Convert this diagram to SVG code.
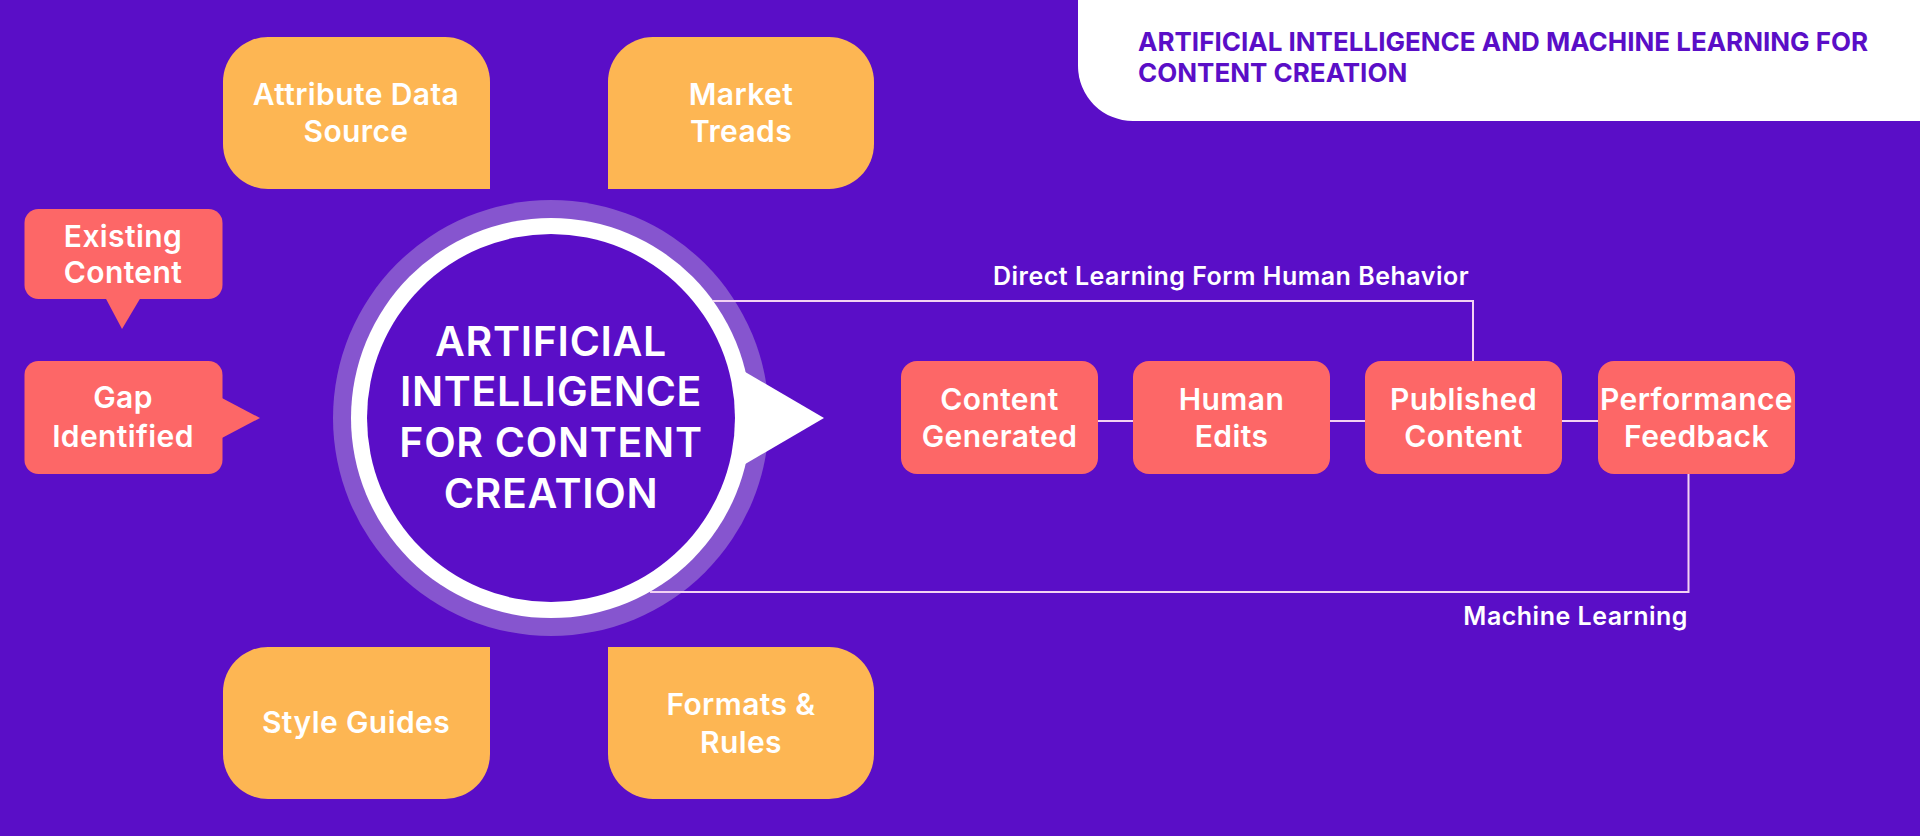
<svg xmlns="http://www.w3.org/2000/svg" width="1920" height="836" viewBox="0 0 1920 836">
<style>
.bg{fill:#5A0EC7}
.org{fill:#FDB653}
.cor{fill:#FD6767}
.t{font-family:Inter,"Noto Sans","Liberation Sans",sans-serif;font-weight:600;fill:#FFFFFF;text-anchor:middle;font-size:30px;letter-spacing:0.4px}
.lab{font-family:Inter,"Noto Sans","Liberation Sans",sans-serif;font-weight:600;fill:#FFFFFF;font-size:25px;letter-spacing:0.5px}
.ct{font-family:Inter,"Noto Sans","Liberation Sans",sans-serif;font-weight:600;fill:#FFFFFF;text-anchor:middle;font-size:41px;letter-spacing:0.7px}
.hd{font-family:Inter,"Noto Sans","Liberation Sans",sans-serif;font-weight:700;fill:#5A0EC7;font-size:26px}
.ln{fill:none;stroke:#F3D2F3;stroke-width:2}
</style>
<rect class="bg" x="0" y="0" width="1920" height="836"/>
<g id="header">
<path d="M1078,0 H1920 V121 H1133 A55,55 0 0 1 1078,66 Z" fill="#FFFFFF"/>
<text class="hd" x="1138" y="51">ARTIFICIAL INTELLIGENCE AND MACHINE LEARNING FOR</text>
<text class="hd" x="1138" y="82">CONTENT CREATION</text>
</g>
<g id="attribute-data-source">
<path class="org" d="M223,82 A45,45 0 0 1 268,37 H445 A45,45 0 0 1 490,82 V189 H268 A45,45 0 0 1 223,144 Z"/>
<text class="t" x="356" y="105">Attribute Data</text>
<text class="t" x="356" y="142">Source</text>
</g>
<g id="market-treads">
<path class="org" d="M608,82 A45,45 0 0 1 653,37 H829 A45,45 0 0 1 874,82 V144 A45,45 0 0 1 829,189 H608 Z"/>
<text class="t" x="741" y="105">Market</text>
<text class="t" x="741" y="142">Treads</text>
</g>
<g id="style-guides">
<path class="org" d="M268,647 H490 V754 A45,45 0 0 1 445,799 H268 A45,45 0 0 1 223,754 V692 A45,45 0 0 1 268,647 Z"/>
<text class="t" x="356" y="733">Style Guides</text>
</g>
<g id="formats-rules">
<path class="org" d="M608,647 H829 A45,45 0 0 1 874,692 V754 A45,45 0 0 1 829,799 H653 A45,45 0 0 1 608,754 Z"/>
<text class="t" x="741" y="715">Formats &amp;</text>
<text class="t" x="741" y="753">Rules</text>
</g>
<g id="existing-content">
<rect class="cor" x="24.5" y="209" width="198" height="90" rx="14"/>
<polygon class="cor" points="105,297 141,297 122,329"/>
<text class="t" x="123" y="247">Existing</text>
<text class="t" x="123" y="283">Content</text>
</g>
<g id="gap-identified">
<rect class="cor" x="24.5" y="361" width="198" height="113" rx="14"/>
<polygon class="cor" points="220,397 260,418 220,439"/>
<text class="t" x="123" y="408">Gap</text>
<text class="t" x="123" y="447">Identified</text>
</g>
<g id="ai-core">
<circle cx="551" cy="418" r="218" fill="#8655CF"/>
<circle cx="551" cy="418" r="200" fill="#FFFFFF"/>
<polygon points="735,366 824,418 735,470" fill="#FFFFFF"/>
<circle cx="551" cy="418" r="184" fill="#5A0EC7"/>
<text class="ct" x="551" y="356">ARTIFICIAL</text>
<text class="ct" x="551" y="406">INTELLIGENCE</text>
<text class="ct" x="551" y="457">FOR CONTENT</text>
<text class="ct" x="551" y="508">CREATION</text>
</g>
<g id="connectors">
<path class="ln" d="M713,301 H1473 V361"/>
<path class="ln" d="M1688.5,474 V592 H650"/>
<path class="ln" d="M1098,421 H1133"/>
<path class="ln" d="M1330,421 H1365"/>
<path class="ln" d="M1562,421 H1598"/>
<text class="lab" x="993" y="285">Direct Learning Form Human Behavior</text>
<text class="lab" x="1688" y="625" text-anchor="end">Machine Learning</text>
</g>
<g id="content-generated">
<rect class="cor" x="901" y="361" width="197" height="113" rx="16"/>
<text class="t" x="999.5" y="410">Content</text>
<text class="t" x="999.5" y="447">Generated</text>
</g>
<g id="human-edits">
<rect class="cor" x="1133" y="361" width="197" height="113" rx="16"/>
<text class="t" x="1231.5" y="410">Human</text>
<text class="t" x="1231.5" y="447">Edits</text>
</g>
<g id="published-content">
<rect class="cor" x="1365" y="361" width="197" height="113" rx="16"/>
<text class="t" x="1463.5" y="410">Published</text>
<text class="t" x="1463.5" y="447">Content</text>
</g>
<g id="performance-feedback">
<rect class="cor" x="1598" y="361" width="197" height="113" rx="16"/>
<text class="t" x="1696.5" y="410">Performance</text>
<text class="t" x="1696.5" y="447">Feedback</text>
</g>
</svg>
